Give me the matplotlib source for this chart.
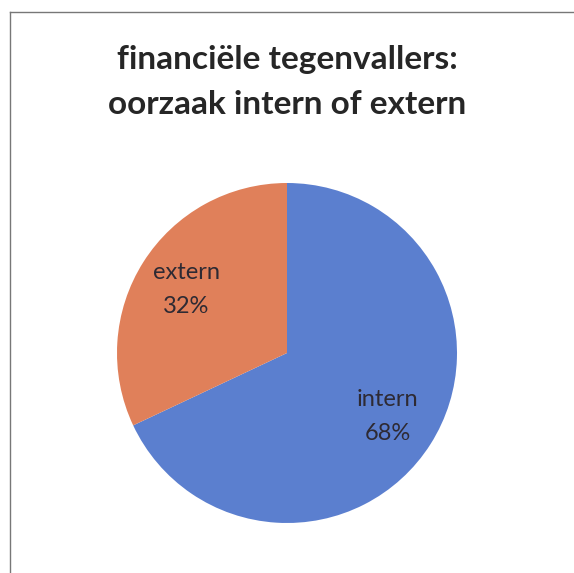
import matplotlib
matplotlib.use("Agg")
from matplotlib import pyplot as plt

labels = ["intern", "extern"]
values = [68, 32]
colors = ["#5b7fcf", "#e0805a"]
title = "financiële tegenvallers:\noorzaak intern of extern"

fig = plt.figure(figsize=(5.74, 5.73), dpi=100)
fig.patch.set_facecolor("white")

# thin frame lines like the original chart border
fig.add_artist(plt.Line2D([10/574, 10/574], [0, 1 - 12/573], color="#777777", lw=1))
fig.add_artist(plt.Line2D([10/574, 1], [1 - 12/573, 1 - 12/573], color="#777777", lw=1))

fig.text(0.5, 1 - 82/573, title, ha="center", va="center", fontsize=24,
         fontweight="bold", family="Lato", color="#262626", linespacing=1.65)

ax = fig.add_axes([(287 - 170)/574, (220 - 170)/573, 340/574, 340/573])
texts = [f"{l}\n{v}%" for l, v in zip(labels, values)]
wedges, txts = ax.pie(values, labels=texts, colors=colors, startangle=90,
                      counterclock=False, labeldistance=0.7,
                      textprops=dict(fontsize=17, family="Lato", color="#2e2a33",
                                     ha="center", va="center", linespacing=1.75))
ax.set_xlim(-1, 1)
ax.set_ylim(-1, 1)
ax.set_aspect("equal")
ax.axis("off")

fig.savefig("out.png", dpi=100, facecolor="white")
